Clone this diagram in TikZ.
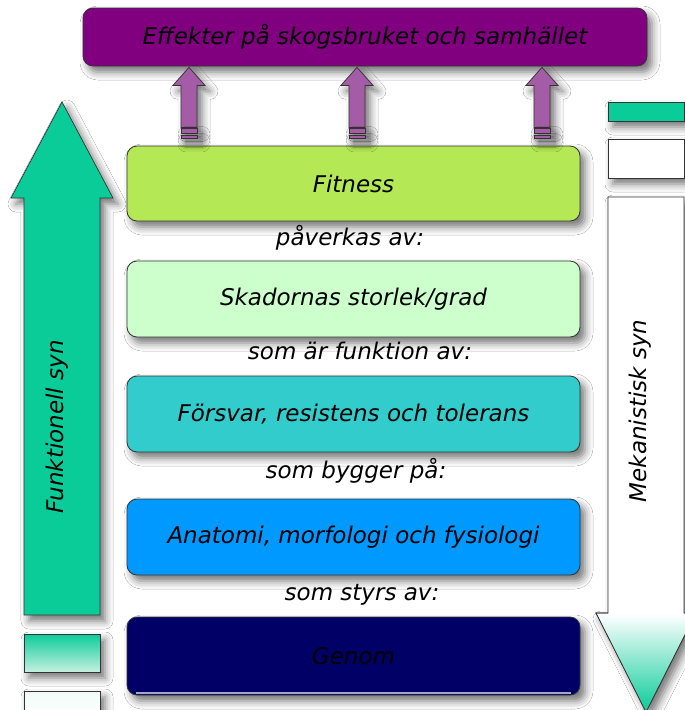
\documentclass[tikz,border=0pt]{standalone}
\usepackage{fontspec}
\setmainfont{DejaVu Sans}
\usetikzlibrary{calc,shadows.blur}

\definecolor{effpurple}{HTML}{800080}
\definecolor{arrpurple}{HTML}{A45CA6}
\definecolor{fitgreen}{HTML}{B4E854}
\definecolor{palegreen}{HTML}{CCFFCC}
\definecolor{teal}{HTML}{33CCCC}
\definecolor{skyblue}{HTML}{0099FF}
\definecolor{navy}{HTML}{000066}
\definecolor{synGreen}{HTML}{0ACC99}
\definecolor{synPale}{HTML}{C6F0E0}

\newcommand\labelfont{\fontsize{23}{27}\selectfont\itshape}

\tikzset{
  soft/.style={blur shadow={shadow xshift=5pt, shadow yshift=-6pt,
      shadow blur radius=8pt, shadow opacity=55}},
  box/.style={draw=black!80, line width=0.8pt, rounded corners=10pt,
      minimum width=453pt, minimum height=76pt, soft, font=\labelfont},
  link/.style={font=\labelfont},
  syn/.style={font=\labelfont, rotate=90},
  outline/.style={draw=black!80, line width=0.7pt},
  block/.style={outline, fill=arrpurple, soft},
}

\begin{document}
\begin{tikzpicture}[x=1pt, y=-1pt]
\useasboundingbox (0,0) rectangle (685,710);
\clip (0,0) rectangle (685,710);
\fill[white] (0,0) rectangle (685,710);

% left: functional view, pointing upwards
\path[outline, fill=synGreen, soft]
  (24,615) -- (24,198) -- (11,198) -- (62,102) -- (113,198)
  -- (100,198) -- (100,615) -- cycle;
\node[syn] (funk) at (57,427) {Funktionell syn};
\path[outline, top color=synGreen, bottom color=synPale, soft]
  (24,634) rectangle (100,672);
\path[outline, top color=synGreen!6, bottom color=white, soft]
  (24,691) rectangle (100,720);

% right: mechanistic view, pointing downwards
\path[outline, fill=synGreen, soft] (608,102) rectangle (684,121);
\path[outline, fill=white, soft] (608,139) rectangle (684,178);
\path[outline, fill=white, soft]
  (608,197) -- (684,197) -- (684,613) -- (696,613) -- (646,712)
  -- (596,613) -- (608,613) -- cycle;
\path[top color=white, bottom color=synGreen]
  (597,614) -- (695,614) -- (646,711) -- cycle;
\draw[outline] (608,613) -- (596,613) -- (646,712) -- (696,613) -- (684,613);
\node[syn] (mek) at (640,411) {Mekanistisk syn};

% effects on top
\node[box, fill=effpurple, minimum width=564pt, minimum height=58pt]
  (eff) at (365,37) {Effekter på skogsbruket och samhället};

% chain of levels
\node[box, fill=fitgreen, minimum height=75pt] (fit) at (353.5,183.5) {Fitness};
\node[box, fill=palegreen] (ska) at (353.5,299) {Skadornas storlek/grad};
\node[box, fill=teal] (fors) at (353.5,414) {Försvar, resistens och tolerans};
\node[box, fill=skyblue] (ana) at (353.5,537) {Anatomi, morfologi och fysiologi};
\node[box, fill=navy, minimum height=78pt] (gen) at (353.5,656) {Genom};
% glossy rim along the lower edge of the gene box
\draw[navy!35!white, line width=1.6pt]
  ($(gen.south west)+(9,-2.5)$) -- ($(gen.south east)+(-9,-2.5)$);

\node[link] (l1) at (350,238) {påverkas av:};
\node[link] (l2) at (360,351) {som är funktion av:};
\node[link] (l3) at (356,471) {som bygger på:};
\node[link] (l4) at (362,595) {som styrs av:};

% striped block arrows from Fitness up to the effects
\foreach \ax [count=\i] in {189,357,542}{
  \coordinate (c\i) at (\ax,0);
  \coordinate (tip\i) at ($(eff.south -| c\i)+(0,1)$);
  \path[block] (tip\i) -- ++(16,18) -- ++(-8,0) -- ++(0,42) -- ++(-16,0)
    -- ++(0,-42) -- ++(-8,0) -- cycle;
  \path[block] ($(tip\i)+(-8,61)$) rectangle ++(16,5);
  \path[block] ($(tip\i)+(-8,68)$) rectangle ++(16,2.5);
}
\end{tikzpicture}
\end{document}
